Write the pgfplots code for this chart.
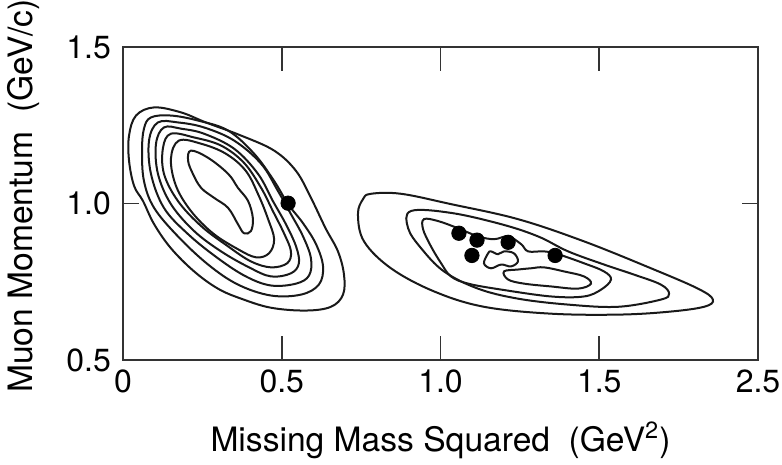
\documentclass[border=0pt]{standalone}
\usepackage{pgfplots}
\pgfplotsset{compat=1.18}
\usepackage{fontspec}
\setmainfont{TeX Gyre Heros}

% Contour levels of the two simulated populations
\pgfplotsset{contour line/.style={black!90, line width=1pt, smooth cycle, tension=0.6, mark=none}}

\begin{document}
\begin{tikzpicture}
\begin{axis}[
  name=ax,
  scale only axis, width=317.5pt, height=156.5pt,
  xmin=0, xmax=2, ymin=0.5, ymax=1.5,
  xtick={0,0.5,1,1.5,2}, xticklabels={0,0.5,1.0,1.5,2.5},
  ytick={0.5,1,1.5}, yticklabels={0.5,1.0,1.5},
  tick align=inside,
  xtick style={/pgfplots/major tick length=12pt, black!80, line width=0.8pt},
  ytick style={/pgfplots/major tick length=8pt, black!80, line width=0.8pt},
  axis line style={black!80, line width=0.9pt},
  /pgf/number format/assume math mode=true,
  tick label style={font=\fontsize{16}{19}\selectfont},
  yticklabel style={xshift=-2.5pt},
  xticklabel style={yshift=-1.5pt},
  label style={font=\fontsize{16.8}{20}\selectfont},
  xlabel={Missing Mass Squared\hspace{0.55em}(GeV\textsuperscript{2})},
  ylabel={Muon Momentum\hspace{0.55em}(GeV/c)},
  xlabel style={at={(axis description cs:0.5,-0.256)}, anchor=center},
  ylabel style={at={(axis description cs:-0.156,0.524)}, anchor=center},
  clip=false,
]

% ---- left population (7 levels) ----
\addplot[contour line] coordinates {
 (0.098,1.307) (0.183,1.291) (0.261,1.259) (0.372,1.217) (0.476,1.169)
 (0.545,1.104) (0.592,1.018) (0.638,0.921) (0.677,0.847) (0.696,0.773)
 (0.693,0.709) (0.655,0.670) (0.576,0.658) (0.466,0.667) (0.372,0.696)
 (0.299,0.728) (0.224,0.783) (0.151,0.857) (0.098,0.934) (0.063,1.008)
 (0.035,1.056) (0.019,1.137) (0.019,1.217) (0.041,1.281)};
\addplot[contour line] coordinates {
 (0.088,1.275) (0.151,1.281) (0.236,1.265) (0.331,1.233) (0.413,1.159)
 (0.476,1.072) (0.520,0.998) (0.567,0.937) (0.608,0.870) (0.630,0.799)
 (0.617,0.741) (0.561,0.709) (0.466,0.706) (0.362,0.741) (0.268,0.805)
 (0.173,0.895) (0.098,0.986) (0.066,1.072) (0.060,1.169) (0.066,1.239)};
\addplot[contour line] coordinates {
 (0.110,1.259) (0.173,1.259) (0.255,1.243) (0.350,1.201) (0.435,1.127)
 (0.488,1.040) (0.529,0.966) (0.567,0.895) (0.592,0.825) (0.586,0.770)
 (0.545,0.744) (0.466,0.738) (0.387,0.767) (0.299,0.825) (0.205,0.902)
 (0.129,0.986) (0.088,1.095) (0.082,1.201)};
\addplot[contour line] coordinates {
 (0.129,1.243) (0.183,1.239) (0.255,1.223) (0.350,1.175) (0.425,1.095)
 (0.472,1.008) (0.513,0.934) (0.545,0.863) (0.554,0.809) (0.529,0.777)
 (0.466,0.767) (0.397,0.796) (0.309,0.847) (0.224,0.912) (0.151,0.998)
 (0.110,1.095) (0.104,1.191)};
\addplot[contour line] coordinates {
 (0.151,1.223) (0.224,1.211) (0.309,1.185) (0.381,1.130) (0.435,1.050)
 (0.472,0.976) (0.507,0.905) (0.529,0.847) (0.517,0.809) (0.466,0.796)
 (0.403,0.815) (0.331,0.863) (0.246,0.928) (0.173,1.008) (0.129,1.095)
 (0.126,1.178)};
\addplot[contour line] coordinates {
 (0.176,1.201) (0.246,1.191) (0.324,1.159) (0.387,1.104) (0.428,1.024)
 (0.457,0.950) (0.476,0.886) (0.460,0.841) (0.419,0.828) (0.362,0.854)
 (0.283,0.905) (0.214,0.976) (0.167,1.056) (0.151,1.143)};
\addplot[contour line] coordinates {
 (0.214,1.169) (0.268,1.146) (0.331,1.095) (0.362,1.050) (0.394,1.008)
 (0.409,0.953) (0.403,0.912) (0.381,0.905) (0.362,0.934) (0.331,0.986)
 (0.287,1.018) (0.246,1.050) (0.220,1.095) (0.205,1.137)};

% ---- right population (4 levels) ----
\addplot[contour line] coordinates {
 (0.781,1.031) (0.876,1.031) (1.033,0.998) (1.244,0.950) (1.452,0.879)
 (1.663,0.793) (1.811,0.728) (1.858,0.693) (1.830,0.670) (1.717,0.654)
 (1.559,0.645) (1.348,0.648) (1.137,0.670) (0.980,0.719) (0.844,0.793)
 (0.759,0.879) (0.740,0.966) (0.756,1.014)};
\addplot[contour line] coordinates {
 (0.907,0.976) (1.033,0.970) (1.191,0.934) (1.307,0.895) (1.402,0.847)
 (1.515,0.805) (1.609,0.773) (1.694,0.741) (1.720,0.712) (1.694,0.693)
 (1.559,0.670) (1.402,0.677) (1.244,0.696) (1.118,0.728) (1.011,0.783)
 (0.939,0.857) (0.898,0.921)};
\addplot[contour line] coordinates {
 (0.948,0.950) (0.992,0.944) (1.055,0.921) (1.118,0.895) (1.169,0.886)
 (1.213,0.895) (1.254,0.870) (1.276,0.847) (1.326,0.847) (1.370,0.838)
 (1.452,0.809) (1.515,0.783) (1.537,0.757) (1.506,0.725) (1.452,0.703)
 (1.348,0.703) (1.191,0.725) (1.087,0.744) (1.033,0.767) (1.002,0.809)
 (0.970,0.863) (0.945,0.918)};
\addplot[contour line] coordinates {
 (1.150,0.841) (1.137,0.809) (1.159,0.793) (1.191,0.805) (1.222,0.799)
 (1.244,0.815) (1.231,0.841) (1.200,0.847) (1.181,0.838) (1.159,0.847)};
\addplot[contour line] coordinates {
 (1.200,0.783) (1.213,0.757) (1.263,0.744) (1.348,0.735) (1.433,0.728)
 (1.474,0.744) (1.452,0.767) (1.389,0.783) (1.326,0.796) (1.285,0.793)
 (1.244,0.789)};

% ---- observed events ----
\addplot[only marks, mark=*, mark size=3.6pt, black] coordinates {
 (0.520,1.001) (1.058,0.905) (1.115,0.883) (1.099,0.834) (1.213,0.876)
 (1.361,0.834)};
\end{axis}
\pgfresetboundingbox
\useasboundingbox ([xshift=-61.5pt,yshift=-52.5pt]ax.south west)
  rectangle ([xshift=12pt,yshift=23.5pt]ax.north east);
\end{tikzpicture}
\end{document}
